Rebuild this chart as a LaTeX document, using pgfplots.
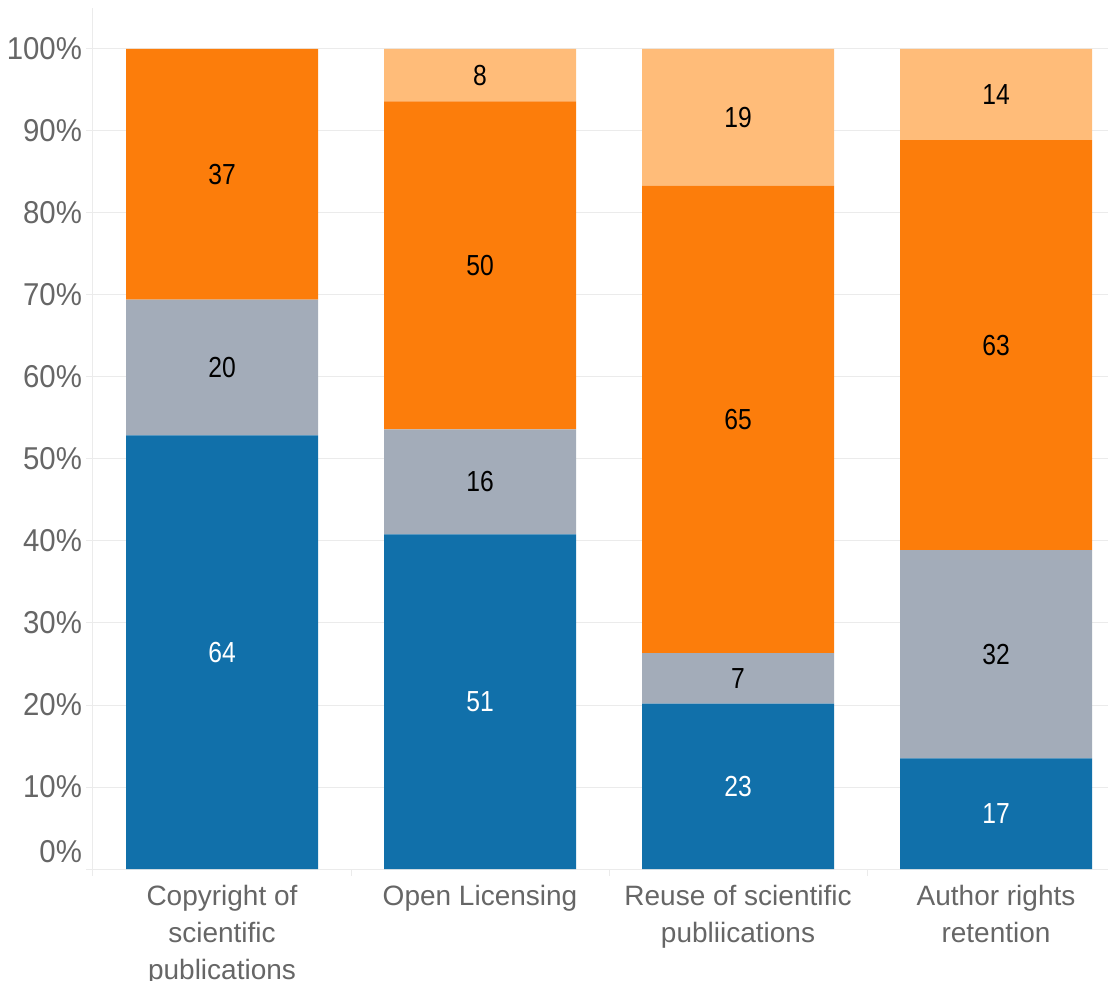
\documentclass[border=0pt]{standalone}
\usepackage{pgfplots}
\usepackage{pgfplotstable}
\usepackage{fontspec}
\setmainfont{Liberation Sans}
\newfontfamily\numfont{Liberation Sans}[FakeStretch=0.85]
\newfontfamily\tickfont{Liberation Sans}[FakeStretch=0.93]
\pgfplotsset{compat=1.18}

\definecolor{tblue}{HTML}{1170AA}
\definecolor{tgray}{HTML}{A3ACB9}
\definecolor{torange}{HTML}{FC7D0B}
\definecolor{tlight}{HTML}{FFBC79}
\definecolor{gridc}{HTML}{EBEBEB}
\definecolor{labc}{HTML}{666666}

% answer counts per topic; each bar shows a column's share of its row total
\pgfplotstableread{
x a b c d
0 64 20 37 0
1 51 16 50 8
2 23 7 65 19
3 17 32 63 14
}\counts

\newcommand\share[1]{\thisrow{#1}/(\thisrow{a}+\thisrow{b}+\thisrow{c}+\thisrow{d})*100}

% one stacked segment: column, fill, label colour
\newcommand\segment[3]{%
  \addplot[fill=#2, draw=none,
    point meta={\thisrow{#1}},
    nodes near coords={\pgfmathfloatifflags{\pgfplotspointmeta}{0}{}{\pgfmathprintnumber{\pgfplotspointmeta}}},
    every node near coord/.append style={text=#3, anchor=center,
      font=\numfont\fontsize{14.5}{17}\selectfont,
      /pgf/number format/assume math mode=true},
  ] table[x=x, y expr=\share{#1}] {\counts};
}

\begin{document}
\begin{tikzpicture}
\begin{axis}[
  scale only axis, width=507.5pt, height=430.5pt,
  ybar stacked, bar width=96pt,
  xmin=-0.5, xmax=3.434, ymin=0, ymax=105,
  axis x line*=bottom, axis y line*=left,
  axis line style={-, draw=gridc, line width=0.5pt},
  ymajorgrids, grid style={draw=gridc, line width=0.5pt},
  tick style={draw=gridc, line width=0.5pt},
  tick align=outside, major tick length=3.5pt,
  ytick={10,20,...,100},
  /pgf/number format/assume math mode=true,
  yticklabel={\pgfmathprintnumber{\tick}\%},
  extra y ticks={0}, extra y tick labels={0\%},
  extra y tick style={yticklabel style={yshift=8.5pt}},
  yticklabel style={font=\tickfont\fontsize{15.8}{18}\selectfont, text=labc,
    xshift=1.5pt},
  xtick={-0.5,0.5,1.5,2.5}, xticklabels={{},{},{},{}},
  extra x ticks={0,1,2,3},
  extra x tick labels={{Copyright of\\scientific\\publications},
    {Open Licensing},{Reuse of scientific\\publiications},
    {Author rights\\retention}},
  extra x tick style={grid=none, major tick length=0pt},
  xticklabel style={font=\fontsize{14}{18.5}\selectfont, text=labc,
    align=center, yshift=-4.5pt},
]
\segment{a}{tblue}{white}
\segment{b}{tgray}{black}
\segment{c}{torange}{black}
\segment{d}{tlight}{black}
\end{axis}
\pgfresetboundingbox
\path[use as bounding box] (-46.5pt,-55.5pt) rectangle (507.5pt,434.5pt);
\end{tikzpicture}
\end{document}
